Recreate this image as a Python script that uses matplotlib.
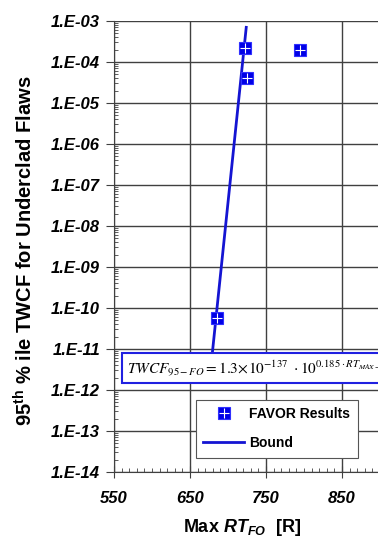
import math
import matplotlib.pyplot as plt
from matplotlib.ticker import FixedLocator, LogLocator, MultipleLocator, NullFormatter, FuncFormatter

plt.rcParams['font.family'] = ['Liberation Sans', 'DejaVu Sans']
plt.rcParams['mathtext.fontset'] = 'custom'
plt.rcParams['mathtext.rm'] = 'Liberation Sans'
plt.rcParams['mathtext.it'] = 'Liberation Sans:italic'
plt.rcParams['mathtext.bf'] = 'Liberation Sans:bold'
plt.rcParams['mathtext.bfit'] = 'Liberation Sans:bold:italic'

# FAVOR results
favor_rt = [723, 725, 795, 686]
favor_twcf = [2.2e-4, 4.0e-5, 2.0e-4, 5.8e-11]

# bound line end points (lower end hidden behind the equation box)
bound_rt = [677, 724]
bound_twcf = [3.0e-12, 7.0e-4]

x_ticks = [550, 650, 750, 850]
y_ticks = [10.0 ** e for e in range(-14, -2)]

fig = plt.figure(figsize=(3.78, 5.38), dpi=100)
ax = fig.add_axes([114 / 378, 1 - 472 / 538, 304 / 378, 451 / 538])

ax.set_yscale('log')
ax.set_xlim(550, 950)
ax.set_ylim(1e-14, 1e-3)

ax.plot(bound_rt, bound_twcf, color='#1414d2', lw=2, zorder=3)
sq, = ax.plot(favor_rt, favor_twcf, 's', ms=8.5, mfc='#0000e6', mec='#3030ff', mew=0.8, ls='none', zorder=4)
pl, = ax.plot(favor_rt, favor_twcf, '+', ms=7, mec='white', mew=0.8, ls='none', zorder=5)
ln, = ax.plot([], [], color='#1414d2', lw=2)

ax.grid(True, which='major', color='#404040', lw=1)
ax.set_axisbelow(True)
for s in ['top', 'right']:
    ax.spines[s].set_visible(False)
ax.spines['left'].set_color('#404040')
ax.spines['bottom'].set_color('#404040')

ax.xaxis.set_major_locator(FixedLocator(x_ticks))
ax.xaxis.set_minor_locator(MultipleLocator(10))
ax.yaxis.set_major_locator(FixedLocator(y_ticks))
ax.yaxis.set_minor_locator(LogLocator(base=10, subs=range(2, 10), numticks=100))
ax.yaxis.set_minor_formatter(NullFormatter())
ax.yaxis.set_major_formatter(FuncFormatter(lambda v, p: '1.E-%02d' % round(-math.log10(v))))

ax.tick_params(axis='y', which='major', direction='out', length=6, pad=4, color='#404040')
ax.tick_params(axis='y', which='minor', direction='in', length=3, color='#404040')
ax.tick_params(axis='x', which='major', direction='inout', length=8, pad=10, color='#404040')
ax.tick_params(axis='x', which='minor', direction='in', length=3, color='#404040')
for lab in ax.get_xticklabels() + ax.get_yticklabels():
    lab.set_fontsize(12)
    lab.set_fontweight('bold')
    lab.set_fontstyle('italic')

ax.set_ylabel(r'95$^{\mathbf{th}}$ % ile TWCF for Underclad Flaws', fontsize=14.5, fontweight='bold')
ax.set_xlabel(r'Max $\mathbfit{RT}_{\mathbfit{FO}}$  [R]', fontsize=13, fontweight='bold')
ax.xaxis.set_label_coords(128 / 304, -0.1)
ax.yaxis.set_label_coords(-0.255, 0.49)

ax.text(0.043, 0.231,
        r'$\mathit{TWCF}_{95-FO} = 1.3\!\times\!10^{-137}\ \cdot 10^{0.185 \cdot RT_{MAX-FO}}$',
        transform=ax.transAxes, fontsize=11, family='serif', va='center', ha='left', zorder=6,
        math_fontfamily='stix',
        bbox=dict(boxstyle='square,pad=0.35', fc='white', ec='#2020e0', lw=1.5))

leg = ax.legend([(sq, pl), ln], ['FAVOR Results', 'Bound'], loc='lower left',
                bbox_to_anchor=(0.269, 0.032), frameon=True, fancybox=False,
                prop={'size': 10, 'weight': 'bold'},
                edgecolor='#555555', framealpha=1, labelspacing=1.05, borderpad=0.55,
                handlelength=2.9, handletextpad=0.4, borderaxespad=0)
leg.get_frame().set_linewidth(0.8)
leg.set_zorder(7)

fig.savefig('out.png', dpi=100)
